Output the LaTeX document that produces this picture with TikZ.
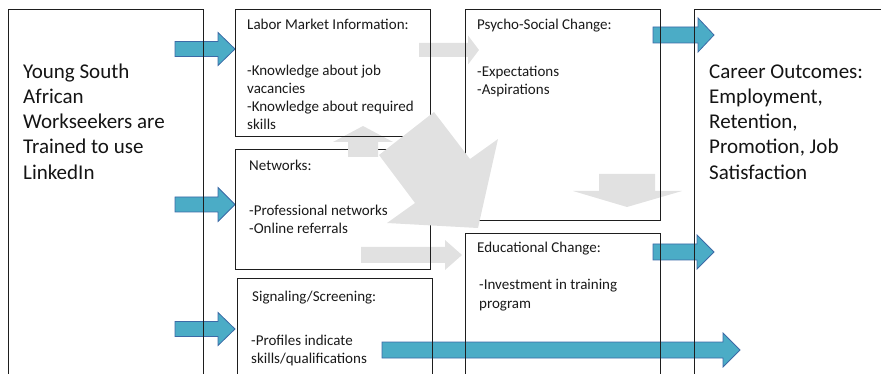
\documentclass[tikz,border=0pt]{standalone}
\usepackage{fontspec}
\setmainfont{Carlito}
\definecolor{bluefill}{HTML}{4BACC6}
\definecolor{blueline}{HTML}{3C6AA6}
\definecolor{grayfill}{HTML}{E1E1E1}
\definecolor{boxline}{HTML}{1E1E1E}
% #1 style, #2 x tail, #3 x tip, #4 y centre, #5 shaft half width, #6 head half width, #7 head length
\newcommand\rblockarrow[7]{%
  \path[#1] (#2,{#4-#5}) -- ({#3-#7},{#4-#5}) -- ({#3-#7},{#4-#6}) -- (#3,#4)
    -- ({#3-#7},{#4+#6}) -- ({#3-#7},{#4+#5}) -- (#2,{#4+#5}) -- cycle;}
\begin{document}
\begin{tikzpicture}[x=1pt,y=-1pt,
  box/.style={draw=boxline, line width=1.3pt, anchor=north west, inner sep=0pt},
  bluearrow/.style={fill=bluefill, draw=blueline, line width=0.8pt, line join=miter},
  grayarrow/.style={fill=grayfill},
  bigtxt/.style={anchor=base west, inner sep=0pt, font={\fontsize{21}{25.2}\selectfont}, text=black!92},
  smalltxt/.style={anchor=base west, inner sep=0pt, font={\fontsize{15}{18}\selectfont}, text=black!90}]
\path[use as bounding box] (0,0) rectangle (881,374);
\clip (0,0) rectangle (881,374);

% blue block arrows
\rblockarrow{bluearrow}{175}{235}{49}{7.5}{16.5}{17}
\rblockarrow{bluearrow}{175}{235}{204.5}{7.5}{17}{17}
\rblockarrow{bluearrow}{175}{235}{329}{7.5}{16.5}{17}
\rblockarrow{bluearrow}{653}{714}{35}{8}{17}{16}
\rblockarrow{bluearrow}{653}{714}{252}{8}{17}{17}
\rblockarrow{bluearrow}{382}{740}{350}{8}{17}{17}

% grey block arrows below the boxes
\rblockarrow{grayarrow}{419}{479}{50}{7}{14.5}{11}
\rblockarrow{grayarrow}{361}{462}{255}{8}{15}{17}
\fill[grayfill] (599,174) -- (655,174) -- (655,191) -- (682,191) -- (627,207)
  -- (573,191) -- (599,191) -- cycle;

% boxes
\node[box, minimum width=195pt, minimum height=420pt] (young) at (8,9) {};
\node[box, minimum width=195pt, minimum height=120pt] (networks) at (235,149) {};
\node[box, minimum width=195pt, minimum height=150pt] (signal) at (237,278) {};
\node[box, minimum width=195pt, minimum height=211pt] (psycho) at (465,9) {};
\node[box, minimum width=195pt, minimum height=200pt] (edu) at (465,233) {};
\node[box, minimum width=250pt, minimum height=420pt] (career) at (694,9) {};

% upward grey arrow (over Networks, under Labor)
\fill[grayfill] (348,157) -- (378,157) -- (378,142) -- (393,142) -- (363,126)
  -- (333,142) -- (348,142) -- cycle;
\node[box, minimum width=195pt, minimum height=127pt] (labor) at (235,9) {};

% large diagonal grey arrow
\fill[grayfill] (434,112) -- (470,159) -- (498,139) -- (478,228) -- (387,223)
  -- (415,203) -- (379,155) -- cycle;

% texts
\node[bigtxt] (youngtxt) at (23,78.3) {\vtop{\hbox{Young South}\hbox{African}\hbox{Workseekers are}\hbox{Trained to use}\hbox{LinkedIn}}};
\node[bigtxt] (careertxt) at (709,78.3) {\vtop{\hbox{Career Outcomes:}\hbox{Employment,}\hbox{Retention,}\hbox{Promotion, Job}\hbox{Satisfaction}}};

\node[smalltxt] (labortitle) at (247,30) {Labor Market Information:};
\node[smalltxt] (labortxt) at (247,75.5) {\vtop{\hbox{-Knowledge about job}\hbox{vacancies}\hbox{-Knowledge about required}\hbox{skills}}};

\node[smalltxt] (nettitle) at (249,171) {Networks:};
\node[smalltxt] (nettxt) at (249,216) {\vtop{\hbox{-Professional networks}\hbox{-Online referrals}}};

\node[smalltxt] (sigtitle) at (252,301) {Signaling/Screening:};
\node[smalltxt] (sigtxt) at (251,345) {\vtop{\hbox{-Profiles indicate}\hbox{skills/qualifications}}};

\node[smalltxt] (psytitle) at (477,30) {Psycho-Social Change:};
\node[smalltxt] (psytxt) at (477,76.5) {\vtop{\hbox{-Expectations}\hbox{-Aspirations}}};

\node[smalltxt] (edutitle) at (477,253) {Educational Change:};
\node[smalltxt] (edutxt) at (479,290) {\vtop{\hbox{-Investment in training}\hbox{program}}};
\end{tikzpicture}
\end{document}
